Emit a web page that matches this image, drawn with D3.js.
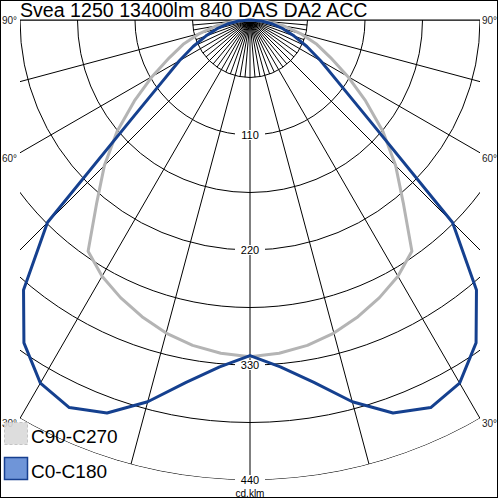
<!DOCTYPE html>
<html><head><meta charset="utf-8">
<script src="https://cdn.jsdelivr.net/npm/d3@7"></script>
<style>body{margin:0;background:#fff}svg{display:block}text{font-family:"Liberation Sans",Arial,sans-serif}</style>
</head><body><svg id="c" width="500" height="500"></svg>
<script>
const title = "Svea 1250 13400lm 840 DAS DA2 ACC";
const gammaAngles = [0,5,10,15,20,25,30,35,40,45,50,55,60,65,70,75,80,85,90];
const c0   = [321,333,352,378,400,409,401,377,337,274,149,102,78,60,45,33,22,11,0];
const c180 = [321,333,352,378,400,409,401,377,337,274,149,102,78,60,45,33,22,11,0];
const c90  = [322,320,316,310,302,293,283,270,228,197,166,135,108,85,68,50,33,16,0];
const c270 = [322,320,316,310,302,293,283,270,228,197,166,135,108,85,68,50,33,16,0];
const ringValues = [55,110,165,220,275,330,385,440];
const ringLabels = [110,220,330,440];
const angleLabels = [90,60,30];
const legendLabels = ["C90-C270","C0-C180"];
const unitLabel = "cd.klm";

const svg = d3.select("#c");
const cx = 250, cy = 20;
const r = d3.scaleLinear().domain([0,440]).range([0,460]);
const rad = d => d*Math.PI/180;

svg.append("rect").attr("x",0.5).attr("y",0.5).attr("width",497).attr("height",497)
  .attr("fill","#fff").attr("stroke","#000");

const defs = svg.append("defs");
defs.append("clipPath").attr("id","clipRect").append("rect")
  .attr("x",20).attr("y",20).attr("width",460).attr("height",470);
defs.append("clipPath").attr("id","clipCirc").append("circle")
  .attr("cx",cx).attr("cy",cy).attr("r",r(440));

const grid = svg.append("g").attr("clip-path","url(#clipRect)")
  .append("g").attr("clip-path","url(#clipCirc)");

ringValues.forEach(v=>{
  grid.append("circle").attr("cx",cx).attr("cy",cy).attr("r",r(v))
    .attr("fill","none").attr("stroke","#000").attr("stroke-width",1);
});
const spokes = d3.range(-90,91,5);
spokes.forEach(a=>{
  const full = a%15===0;
  const len = full ? r(440) : r(55);
  grid.append("line").attr("x1",cx).attr("y1",cy)
    .attr("x2",cx+len*Math.sin(rad(a))).attr("y2",cy+len*Math.cos(rad(a)))
    .attr("stroke","#000").attr("stroke-width",1);
});
svg.append("line").attr("x1",20).attr("x2",480).attr("y1",cy).attr("y2",cy).attr("stroke","#000");

// ring labels
ringLabels.forEach(v=>{
  const y = cy + r(v);
  svg.append("rect").attr("x",cx-15).attr("y",y-5).attr("width",30).attr("height",10).attr("fill","#fff");
  svg.append("text").attr("x",cx).attr("y",y+4).attr("text-anchor","middle")
    .attr("font-size",11).attr("fill","#000").text(v);
});
svg.append("text").attr("x",cx).attr("y",497).attr("text-anchor","middle")
  .attr("font-size",10).attr("fill","#000").text(unitLabel);

// angle labels
angleLabels.forEach(a=>{
  const t = (230)/Math.sin(rad(a));
  const y = cy + t*Math.cos(rad(a));
  const yy = a===90 ? y+4 : y+9;
  svg.append("text").attr("x",2).attr("y",yy).attr("font-size",10).attr("fill","#222").text(a+"°");
  svg.append("text").attr("x",482).attr("y",yy).attr("font-size",10).attr("fill","#222").text(a+"°");
});

// curves
function pts(left,right){
  const p=[];
  for(let i=gammaAngles.length-1;i>=0;i--){const g=rad(gammaAngles[i]);p.push([cx-r(left[i])*Math.sin(g),cy+r(left[i])*Math.cos(g)]);}
  for(let i=1;i<gammaAngles.length;i++){const g=rad(gammaAngles[i]);p.push([cx+r(right[i])*Math.sin(g),cy+r(right[i])*Math.cos(g)]);}
  return p;
}
const line = d3.line();
svg.append("path").attr("d",line(pts(c270,c90))).attr("fill","none")
  .attr("stroke","#b4b4b4").attr("stroke-width",3).attr("stroke-linejoin","round");
svg.append("path").attr("d",line(pts(c180,c0))).attr("fill","none")
  .attr("stroke","#15408f").attr("stroke-width",3).attr("stroke-linejoin","round");

// title
svg.append("text").attr("x",20).attr("y",17).attr("font-size",19.6).attr("fill","#000").text(title);

// legend
const lg = svg.append("g");
lg.append("rect").attr("x",4.5).attr("y",422.5).attr("width",23).attr("height",22)
  .attr("fill","#d9d9d9").attr("fill-opacity",0.9).attr("stroke","#c4c4c4").attr("stroke-dasharray","3,2");
lg.append("text").attr("x",31).attr("y",443).attr("font-size",19).text(legendLabels[0]);
lg.append("rect").attr("x",4.5).attr("y",457.5).attr("width",23).attr("height",22)
  .attr("fill","#6f95d8").attr("stroke","#173f8f").attr("stroke-width",1.5);
lg.append("text").attr("x",31).attr("y",478).attr("font-size",19).text(legendLabels[1]);
</script></body></html>
